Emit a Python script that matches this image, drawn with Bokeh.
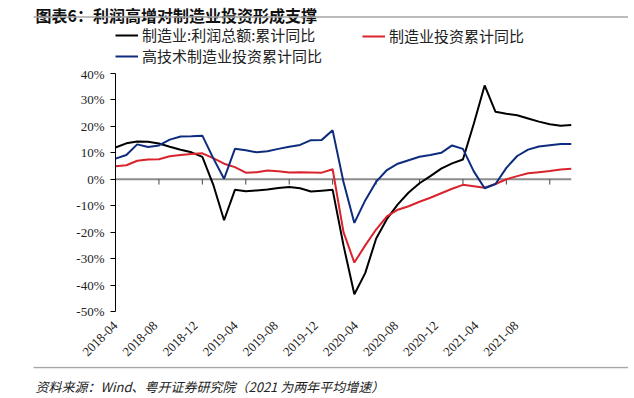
import math
from bokeh.plotting import figure
from bokeh.models import (FixedTicker, Span, Legend, LegendItem, Range1d)
from bokeh.core.properties import value
from bokeh.embed import file_html
from bokeh.resources import INLINE

months = ["2018-04", "2018-05", "2018-06", "2018-07", "2018-08", "2018-09",
          "2018-10", "2018-11", "2018-12", "2019-01", "2019-02", "2019-03",
          "2019-04", "2019-05", "2019-06", "2019-07", "2019-08", "2019-09",
          "2019-10", "2019-11", "2019-12", "2020-01", "2020-02", "2020-03",
          "2020-04", "2020-05", "2020-06", "2020-07", "2020-08", "2020-09",
          "2020-10", "2020-11", "2020-12", "2021-01", "2021-02", "2021-03",
          "2021-04", "2021-05", "2021-06", "2021-07", "2021-08", "2021-09",
          "2021-10"]

profit = [12.0, 13.6, 14.3, 14.2, 13.5, 12.3, 11.2, 10.2, 8.5, -2.0,
          -15.5, -4.0, -4.5, -4.2, -3.9, -3.3, -2.9, -3.4, -4.6, -4.3,
          -4.0, -25.0, -43.5, -35.5, -22.5, -15.0, -9.5, -5.0, -1.5, 1.2,
          4.0, 6.0, 7.5, 21.0, 35.5, 25.5, 24.8, 24.2, 23.0, 21.8,
          20.8, 20.2, 20.5]

invest = [4.9, 5.3, 7.0, 7.5, 7.6, 8.7, 9.2, 9.6, 9.8, 8.0,
          5.9, 4.6, 2.5, 2.7, 3.3, 3.0, 2.6, 2.7, 2.6, 2.5,
          3.8, -20.0, -31.5, -25.0, -19.0, -14.0, -11.5, -10.2, -8.5, -7.0,
          -5.3, -3.6, -2.1, -2.6, -3.2, -1.8, 0.0, 1.2, 2.3, 2.7,
          3.1, 3.7, 4.0]

hitech = [7.8, 9.2, 13.2, 12.2, 12.8, 15.0, 16.2, 16.3, 16.5, 8.0,
          0.2, 11.5, 11.0, 10.2, 10.6, 11.5, 12.3, 13.0, 14.8, 14.9,
          18.5, -1.0, -16.5, -8.0, -1.0, 3.5, 5.9, 7.2, 8.5, 9.2,
          10.0, 12.8, 11.5, 3.0, -3.4, -1.8, 4.3, 8.8, 11.2, 12.4,
          12.9, 13.3, 13.3]

tick_labels = ["2018-04", "2018-08", "2018-12", "2019-04", "2019-08",
               "2019-12", "2020-04", "2020-08", "2020-12", "2021-04",
               "2021-08"]
y_ticks = [40, 30, 20, 10, 0, -10, -20, -30, -40, -50]

series_names = ["制造业:利润总额:累计同比", "制造业投资累计同比",
                "高技术制造业投资累计同比"]
title_text = "图表6：利润高增对制造业投资形成支撑"
source_text = "资料来源：Wind、粤开证券研究院（2021 为两年平均增速）"

x = list(range(len(months)))
tick_pos = [months.index(t) for t in tick_labels]

W = 628
CJK = "Noto Sans CJK SC"
RULE = "#A6A6A6"
colors = ["#000000", "#D9232D", "#0E2C7E"]


def blank_fig(h):
    f = figure(width=W, height=h, output_backend="svg", toolbar_location=None,
               x_range=Range1d(0, W), y_range=Range1d(0, h),
               min_border_left=0, min_border_right=0, min_border_top=0,
               min_border_bottom=0)
    f.axis.visible = False
    f.outline_line_color = None
    f.grid.visible = False
    return f


def style_legend(lg):
    lg.background_fill_alpha = 0
    lg.border_line_color = None
    lg.padding = 0
    lg.margin = 0
    lg.spacing = 0
    lg.glyph_width = 23
    lg.glyph_height = 20
    lg.label_height = 20
    lg.label_standoff = 4
    lg.label_text_font = CJK
    lg.label_text_font_size = "15px"
    lg.label_text_color = "#222222"
    return lg


# ---- header: title, rule, legend
TH = 66
top = blank_fig(TH)
top.text(x=[35], y=[TH - 14], text=[title_text], text_font=value(CJK),
         text_font_style="bold", text_font_size="16px", text_color="#111111",
         text_baseline="alphabetic", text_align="left")
top.segment(x0=[33], y0=[TH - 16.5], x1=[W], y1=[TH - 16.5],
            line_color=RULE, line_width=1.5)
# legend proxies (single point: draws nothing in the plot area itself)
k1 = top.line(x=[0], y=[0], line_color=colors[0], line_width=2)
k2 = top.line(x=[0], y=[0], line_color=colors[1], line_width=2)
k3 = top.line(x=[0], y=[0], line_color=colors[2], line_width=2)
legA = style_legend(Legend(items=[LegendItem(label=series_names[0], renderers=[k1]),
                                  LegendItem(label=series_names[2], renderers=[k3])],
                           location=(115, 0), orientation="vertical"))
legB = style_legend(Legend(items=[LegendItem(label=series_names[1], renderers=[k2])],
                           location=(362, 20), orientation="vertical"))
top.add_layout(legA)
top.add_layout(legB)

# ---- main chart
MH = 300
FRAME_W = W - 115 - 57
p = figure(width=W, height=MH, output_backend="svg", toolbar_location=None,
           x_range=Range1d(0, len(months) - 1), y_range=Range1d(-50, 40),
           min_border_left=115, min_border_right=57, min_border_top=7,
           min_border_bottom=55)
p.outline_line_color = None
p.xgrid.visible = False
p.ygrid.visible = False

ya = p.yaxis[0]
ya.ticker = FixedTicker(ticks=y_ticks)
ya.major_label_overrides = {t: f"{t}%" for t in y_ticks}
ya.axis_line_color = "black"
ya.axis_line_width = 1
ya.major_tick_line_color = "black"
ya.major_tick_in = 0
ya.major_tick_out = 5
ya.minor_tick_line_color = None
ya.major_label_text_font = "Liberation Serif"
ya.major_label_text_font_size = "13px"
ya.major_label_text_color = "#222222"
ya.major_label_standoff = 6

# category labels sit on a slightly tighter pitch than the data ticks
lab_px_per_month = 40.1 / 4
p.extra_x_ranges = {"labels": Range1d(0, FRAME_W / lab_px_per_month)}
xa = p.xaxis[0]
xa.x_range_name = "labels"
xa.ticker = FixedTicker(ticks=tick_pos)
xa.major_label_overrides = {pos: lbl for pos, lbl in zip(tick_pos, tick_labels)}
xa.major_label_orientation = math.pi / 4
xa.axis_line_color = None
xa.major_tick_line_color = None
xa.minor_tick_line_color = None
xa.major_label_text_font = "Liberation Serif"
xa.major_label_text_font_size = "13px"
xa.major_label_text_color = "#222222"
xa.major_label_standoff = 6

p.add_layout(Span(location=0, dimension="width", line_color="#8c8c8c",
                  line_width=2, level="underlay"))
p.segment(x0=tick_pos, y0=[0] * len(tick_pos), x1=tick_pos,
          y1=[-2] * len(tick_pos), line_color="#444444", line_width=1)

p.line(x, profit, line_color=colors[0], line_width=2)
p.line(x, invest, line_color=colors[1], line_width=2)
p.line(x, hitech, line_color=colors[2], line_width=2)

# ---- footer: rule + source
BH = 31
bot = blank_fig(BH)
bot.segment(x0=[33], y0=[BH - 1], x1=[W], y1=[BH - 1],
            line_color=RULE, line_width=1.5)
bot.text(x=[35], y=[BH - 20], text=[source_text], text_font=value(CJK),
         text_font_style="italic", text_font_size="13px", text_color="#222222",
         text_baseline="alphabetic", text_align="left")

open("out.html", "w").write(file_html([top, p, bot], INLINE))
